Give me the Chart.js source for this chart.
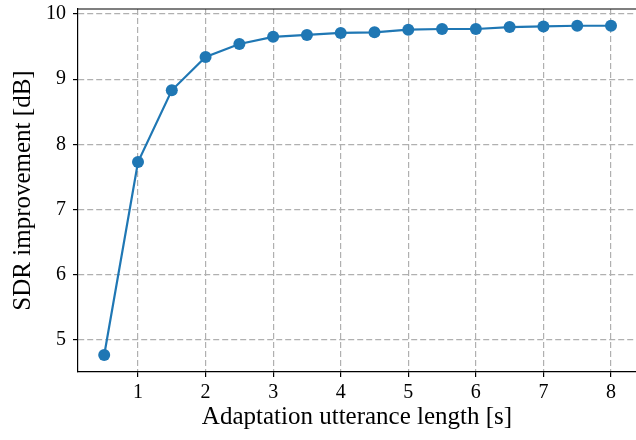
<!DOCTYPE html>
<html>
<head>
<meta charset="utf-8">
<script src="https://cdn.jsdelivr.net/npm/chart.js@4"></script>
<style>
  html, body { margin: 0; padding: 0; background: #fff; }
  #wrap { width: 636px; height: 440px; }
</style>
</head>
<body>
<div id="wrap"><canvas id="c" width="636" height="440"></canvas></div>
<script>
const lengths = [0.5, 1, 1.5, 2, 2.5, 3, 3.5, 4, 4.5, 5, 5.5, 6, 6.5, 7, 7.5, 8];
const sdrGain = [4.77, 7.73, 8.83, 9.34, 9.54, 9.65, 9.68, 9.71, 9.72, 9.76, 9.77, 9.77, 9.80, 9.81, 9.82, 9.82];
const xTicks = [1, 2, 3, 4, 5, 6, 7, 8];
const yTicks = [5, 6, 7, 8, 9, 10];

const FONT = "'Liberation Serif', 'DejaVu Serif', serif";

// top spine (right one falls off the cropped picture)
const frame = {
    id: 'frame',
    afterDraw(chart) {
        const { ctx, chartArea: a } = chart;
        ctx.save();
        ctx.strokeStyle = '#000';
        ctx.lineWidth = 1.2;
        ctx.beginPath();
        ctx.moveTo(a.left, a.top);
        ctx.lineTo(a.right, a.top);
        ctx.stroke();
        ctx.restore();
    }
};

const grid = {
    color: '#b0b0b0',
    lineWidth: 1.2,
    tickColor: '#000',
    tickLength: 5,
    tickBorderDash: [],
    tickWidth: 1.2
};
const border = { color: '#000', width: 1.2, dash: [6, 3] };

new Chart(document.getElementById('c'), {
    type: 'line',
    data: {
        datasets: [{
            data: lengths.map((x, i) => ({ x: x, y: sdrGain[i] })),
            borderColor: '#1f77b4',
            backgroundColor: '#1f77b4',
            borderWidth: 2.2,
            pointRadius: 6,
            pointHoverRadius: 6,
            pointBorderWidth: 0,
            tension: 0
        }]
    },
    plugins: [frame],
    options: {
        responsive: false,
        animation: false,
        layout: { autoPadding: false, padding: { top: 9, right: 0, left: 0, bottom: 0 } },
        plugins: { legend: { display: false }, tooltip: { enabled: false } },
        scales: {
            x: {
                type: 'linear',
                min: 0.112,
                max: 8.37,
                afterBuildTicks: s => { s.ticks = xTicks.map(v => ({ value: v })); },
                afterFit: s => { s.height = 68; s.paddingLeft = 0; s.paddingRight = 0; },
                grid: grid,
                border: border,
                ticks: { color: '#000', font: { family: FONT, size: 20 }, padding: 4, maxRotation: 0 },
                title: { display: true, text: 'Adaptation utterance length [s]', color: '#000', font: { family: FONT, size: 25 }, padding: { top: -2, bottom: 8 } }
            },
            y: {
                min: 4.51,
                max: 10.077,
                afterBuildTicks: s => { s.ticks = yTicks.map(v => ({ value: v })); },
                afterFit: s => { s.width = 78; s.paddingTop = 0; s.paddingBottom = 0; },
                grid: grid,
                border: border,
                ticks: { color: '#000', font: { family: FONT, size: 20 }, padding: 7 },
                title: { display: true, text: 'SDR improvement [dB]', color: '#000', font: { family: FONT, size: 25 }, padding: { top: 8, bottom: 4 } }
            }
        }
    }
});
</script>
</body>
</html>
